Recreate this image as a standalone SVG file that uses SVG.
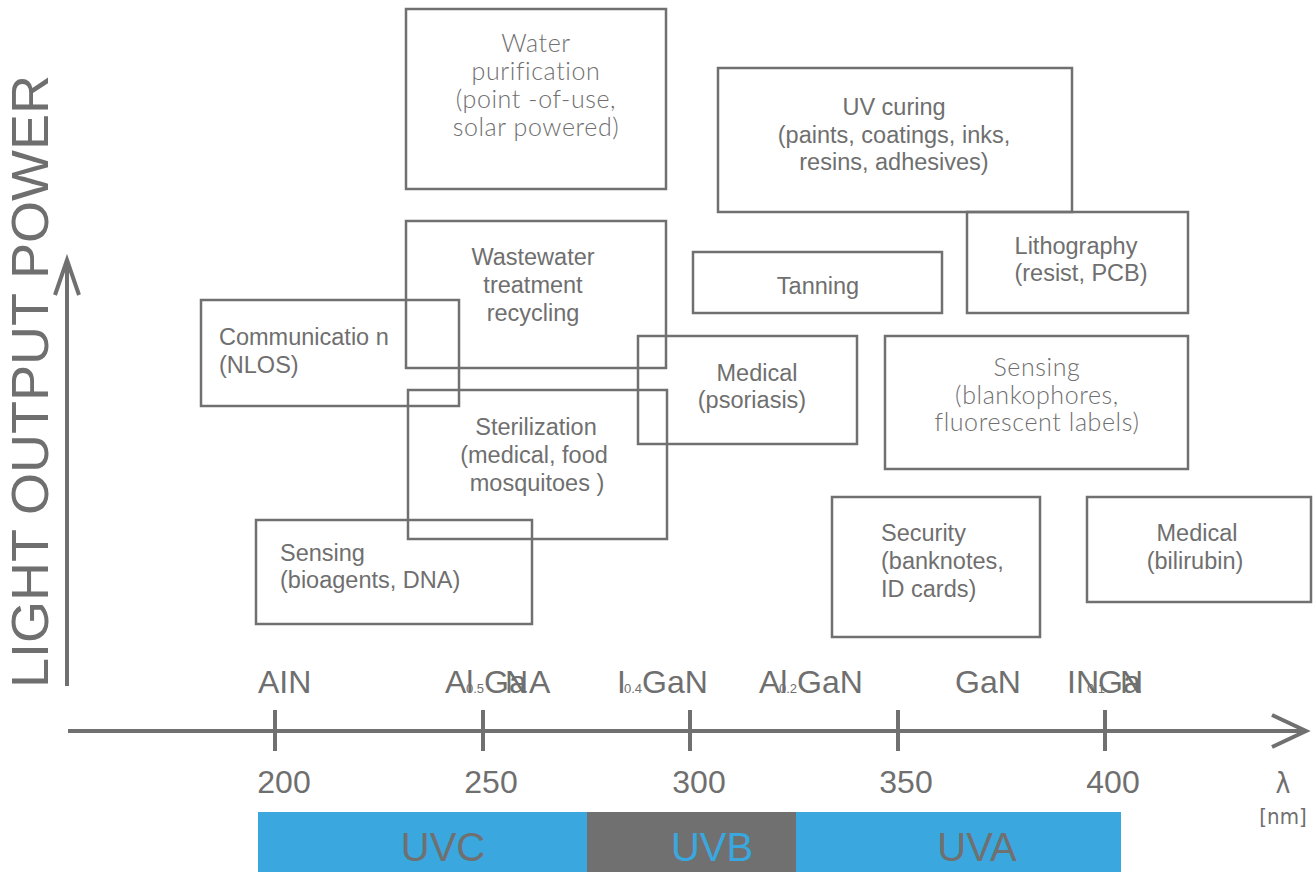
<svg xmlns="http://www.w3.org/2000/svg" width="1315" height="872" viewBox="0 0 1315 872">
<style>
.box{fill:none;stroke:#707070;stroke-width:2.5}
.t{font-family:"Liberation Sans",Arial,sans-serif;font-size:23.5px;fill:#6f6f6f}
.c{text-anchor:middle}
.lt{font-family:"Lato","Open Sans",sans-serif;font-weight:300;font-size:25px;letter-spacing:0.6px;fill:#6f6f6f;text-anchor:middle}
.ax{stroke:#707070;stroke-width:4;fill:none}
.mat{font-family:"Liberation Sans",Arial,sans-serif;font-size:32px;fill:#6f6f6f}
.sub{font-family:"Liberation Sans",Arial,sans-serif;font-size:13px;fill:#6f6f6f}
.num{font-family:"Liberation Sans",Arial,sans-serif;font-size:32px;fill:#6f6f6f;text-anchor:middle}
.band{font-family:"Liberation Sans Narrow","Liberation Sans",sans-serif;font-size:40px;text-anchor:middle}
</style>
<rect width="1315" height="872" fill="#ffffff"/>
<g id="bands">
<rect x="258" y="812" width="329" height="60" fill="#3aa7de"/>
<rect x="587" y="812" width="209" height="60" fill="#707070"/>
<rect x="796" y="812" width="325" height="60" fill="#3aa7de"/>
<text class="band" x="443" y="861" fill="#707070">UVC</text>
<text class="band" x="712" y="861" fill="#3aa7de">UVB</text>
<text class="band" x="977" y="861" fill="#707070">UVA</text>
</g>
<g id="axes">
<line class="ax" x1="67" y1="686" x2="67" y2="260"/>
<polyline class="ax" points="55,295 67,260 79,295"/>
<text transform="translate(48,688) rotate(-90)" font-family="Liberation Sans,Arial,sans-serif" font-size="52" fill="#6f6f6f" textLength="613" lengthAdjust="spacingAndGlyphs">LIGHT OUTPUT POWER</text>
<line class="ax" x1="68" y1="731" x2="1305" y2="731"/>
<polyline class="ax" points="1272,715 1306,731 1272,747"/>
<line class="ax" x1="275" y1="710" x2="275" y2="751"/>
<line class="ax" x1="483" y1="710" x2="483" y2="751"/>
<line class="ax" x1="690" y1="710" x2="690" y2="751"/>
<line class="ax" x1="898" y1="710" x2="898" y2="751"/>
<line class="ax" x1="1105" y1="710" x2="1105" y2="751"/>
<text class="num" x="284" y="793">200</text>
<text class="num" x="491" y="793">250</text>
<text class="num" x="699" y="793">300</text>
<text class="num" x="906" y="793">350</text>
<text class="num" x="1113" y="793">400</text>
<text x="1283" y="793" font-family="DejaVu Sans Condensed,DejaVu Sans,sans-serif" font-weight="200" font-size="28" fill="#6f6f6f" text-anchor="middle">λ</text>
<text x="1283" y="824" font-family="DejaVu Sans Condensed,DejaVu Sans,sans-serif" font-weight="200" font-size="22" fill="#6f6f6f" text-anchor="middle">[nm]</text>
</g>
<g id="materials">
<text class="mat" x="258" y="693">AIN</text>
<text class="mat" x="445" y="693">Al<tspan class="sub" x="466">0.5</tspan><tspan x="484">Ga</tspan><tspan x="505">N</tspan><tspan x="529">A</tspan></text>
<text class="mat" x="617" y="693">I<tspan class="sub" x="624">0.4</tspan><tspan x="642">GaN</tspan></text>
<text class="mat" x="759" y="693">Al<tspan class="sub" x="779">0.2</tspan><tspan x="797">GaN</tspan></text>
<text class="mat" x="955" y="693">GaN</text>
<text class="mat" x="1067" y="693">IN<tspan class="sub" x="1087">0.1</tspan><tspan x="1098">Ga</tspan><tspan x="1120">N</tspan></text>
</g>
<g id="water"><rect class="box" x="406" y="9" width="260" height="180"/>
<text class="lt" x="536" y="52">Water</text><text class="lt" x="536" y="80">purification</text><text class="lt" x="536" y="108">(point -of-use,</text><text class="lt" x="536" y="136">solar powered)</text></g>
<g id="uvcuring"><rect class="box" x="718" y="68" width="354" height="144"/>
<text class="t c" x="894" y="115">UV curing</text><text class="t c" x="894" y="143">(paints, coatings, inks,</text><text class="t c" x="894" y="170">resins, adhesives)</text></g>
<g id="litho"><rect class="box" x="967" y="212" width="221" height="101"/>
<text class="t c" x="1076" y="254">Lithography</text><text class="t c" x="1081" y="281">(resist, PCB)</text></g>
<g id="tanning"><rect class="box" x="693" y="252" width="249" height="61"/>
<text class="t c" x="818" y="294">Tanning</text></g>
<g id="wastewater"><rect class="box" x="406" y="221" width="260" height="147"/>
<text class="t c" x="533" y="265">Wastewater</text><text class="t c" x="533" y="293">treatment</text><text class="t c" x="533" y="321">recycling</text></g>
<g id="communication"><rect class="box" x="201" y="300" width="258" height="106"/>
<text class="t" x="219" y="345">Communicatio n</text><text class="t" x="219" y="373">(NLOS)</text></g>
<g id="medical1"><rect class="box" x="638" y="336" width="219" height="108"/>
<text class="t c" x="757" y="381">Medical</text><text class="t c" x="752" y="408">(psoriasis)</text></g>
<g id="sensing2"><rect class="box" x="885" y="336" width="303" height="133"/>
<text class="lt" x="1037" y="376">Sensing</text><text class="lt" x="1037" y="404">(blankophores,</text><text class="lt" x="1037" y="431">fluorescent labels)</text></g>
<g id="sterilization"><rect class="box" x="408" y="390" width="259" height="149"/>
<text class="t c" x="536" y="435">Sterilization</text><text class="t c" x="534" y="463">(medical, food</text><text class="t c" x="537" y="491">mosquitoes )</text></g>
<g id="sensing1"><rect class="box" x="256" y="520" width="276" height="104"/>
<text class="t" x="280" y="561">Sensing</text><text class="t" x="280" y="588">(bioagents, DNA)</text></g>
<g id="security"><rect class="box" x="832" y="497" width="208" height="140"/>
<text class="t" x="881" y="541">Security</text><text class="t" x="881" y="569">(banknotes,</text><text class="t" x="881" y="597">ID cards)</text></g>
<g id="medical2"><rect class="box" x="1087" y="497" width="224" height="105"/>
<text class="t c" x="1197" y="541">Medical</text><text class="t c" x="1195" y="569">(bilirubin)</text></g>
<g id="connectors"></g>
</svg>
